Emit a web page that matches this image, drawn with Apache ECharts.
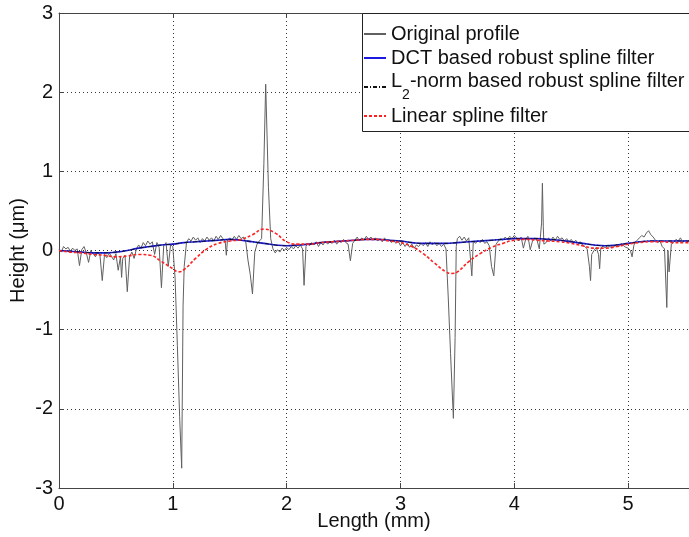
<!DOCTYPE html>
<html><head><meta charset="utf-8">
<script src="https://cdn.jsdelivr.net/npm/echarts@6/dist/echarts.min.js"></script>
<style>html,body{margin:0;padding:0;background:#fff}#c{width:689px;height:537px}</style>
</head><body><div id="c"></div>
<script>
const xTicks = [0, 1, 2, 3, 4, 5];
const yTicks = [-3, -2, -1, 0, 1, 2, 3];
const seriesNames = ['Original profile', 'DCT based robust spline filter', 'L2-norm based robust spline filter', 'Linear spline filter'];

const originalProfile = [
[0.00,0.01],[0.02,-0.02],[0.04,0.05],[0.06,0.02],[0.08,0.04],
[0.10,-0.01],[0.12,0.03],[0.14,0.00],[0.16,0.02],[0.18,-0.19],
[0.20,0.01],[0.22,0.05],[0.24,-0.03],[0.26,-0.15],[0.28,0.00],
[0.30,-0.04],[0.32,-0.08],[0.34,-0.02],[0.36,-0.06],[0.38,-0.38],
[0.40,-0.05],[0.42,-0.09],[0.44,-0.03],[0.46,-0.07],[0.48,-0.12],
[0.50,-0.04],[0.52,-0.25],[0.54,-0.08],[0.55,-0.34],[0.56,-0.10],[0.58,-0.06],
[0.60,-0.52],[0.62,-0.08],[0.64,-0.02],[0.66,-0.10],[0.68,0.02],
[0.70,0.07],[0.72,0.03],[0.74,0.10],[0.76,0.06],[0.78,0.12],
[0.80,0.08],[0.82,0.11],[0.84,-0.05],[0.86,0.10],[0.88,0.04],
[0.90,-0.47],[0.92,0.06],[0.94,0.10],[0.96,-0.20],[0.98,0.07],
[1.00,0.05],[1.02,-0.35],[1.04,-1.20],[1.06,-2.10],[1.078,-2.75],[1.09,-0.70],[1.10,-0.20],[1.12,0.10],[1.14,0.15],[1.16,0.12],[1.18,0.17],
[1.20,0.13],[1.22,0.16],[1.24,0.10],[1.26,0.15],[1.28,0.12],
[1.30,0.17],[1.32,0.13],[1.34,0.16],[1.36,0.12],[1.38,0.18],
[1.40,0.14],[1.42,0.19],[1.44,0.15],[1.46,0.12],[1.47,-0.06],[1.48,0.13],
[1.50,0.16],[1.52,0.13],[1.54,0.18],[1.56,0.14],[1.58,0.19],
[1.60,0.15],[1.62,0.17],[1.64,0.12],[1.66,-0.12],[1.68,-0.30],[1.70,-0.55],[1.72,-0.02],[1.74,0.08],[1.76,0.12],[1.78,0.15],
[1.80,1.10],[1.816,2.10],[1.84,0.80],[1.86,0.15],[1.88,0.02],
[1.90,-0.03],[1.92,0.01],[1.94,-0.02],[1.96,0.03],[1.98,0.00],
[2.00,0.04],[2.02,0.01],[2.04,0.05],[2.06,0.02],[2.08,0.06],
[2.10,0.03],[2.12,0.07],[2.14,0.02],[2.153,-0.44],[2.17,0.05],[2.18,0.09],
[2.20,0.06],[2.22,0.10],[2.24,0.07],[2.26,0.11],[2.28,0.05],
[2.30,0.10],[2.32,0.07],[2.34,0.12],[2.36,0.08],[2.38,0.11],
[2.40,0.09],[2.42,0.13],[2.44,0.08],[2.46,0.12],[2.48,0.10],
[2.50,0.14],[2.52,0.10],[2.54,0.08],[2.56,-0.13],[2.58,0.09],
[2.60,0.13],[2.62,0.17],[2.64,0.12],[2.66,0.16],[2.68,0.13],
[2.70,0.18],[2.72,0.14],[2.74,0.17],[2.76,0.13],[2.78,0.16],
[2.80,0.12],[2.82,0.15],[2.84,0.11],[2.86,0.16],[2.88,0.12],
[2.90,0.14],[2.92,0.10],[2.94,0.13],[2.96,0.09],[2.98,0.12],
[3.00,0.06],[3.02,0.10],[3.04,0.05],[3.06,0.09],[3.08,0.04],
[3.10,0.08],[3.12,0.03],[3.14,0.07],[3.16,0.05],[3.18,0.09],
[3.20,0.06],[3.22,0.10],[3.24,0.05],[3.26,0.11],[3.28,0.07],
[3.30,0.10],[3.32,0.06],[3.34,0.09],[3.36,0.05],[3.38,0.08],
[3.40,0.02],[3.42,-0.60],[3.44,-1.30],[3.465,-2.12],[3.48,-1.10],[3.49,0.05],[3.50,0.15],[3.52,0.18],[3.54,0.13],[3.56,0.17],[3.58,0.12],
[3.60,0.16],[3.627,-0.32],[3.64,0.12],[3.66,0.09],[3.68,0.13],
[3.70,0.10],[3.72,0.14],[3.74,0.09],[3.76,0.11],[3.78,0.06],[3.80,-0.20],[3.82,-0.32],[3.84,0.08],[3.86,0.12],[3.88,0.15],
[3.90,0.13],[3.92,0.17],[3.94,0.14],[3.96,0.18],[3.98,0.15],
[4.00,0.19],[4.02,0.16],[4.04,0.12],[4.06,0.17],[4.08,0.03],
[4.10,0.14],[4.12,0.18],[4.14,0.01],[4.16,0.12],[4.18,0.16],
[4.20,0.13],[4.22,0.02],[4.24,0.35],[4.247,0.85],[4.255,0.30],[4.26,0.08],[4.28,0.10],
[4.30,0.16],[4.32,0.12],[4.34,0.17],[4.36,0.13],[4.38,0.18],
[4.40,0.14],[4.42,0.16],[4.44,0.12],[4.46,0.15],[4.48,0.11],
[4.50,0.14],[4.52,0.10],[4.54,0.13],[4.56,0.09],[4.58,0.11],
[4.60,0.07],[4.62,0.05],[4.64,0.02],[4.66,-0.20],[4.67,-0.38],[4.68,-0.05],[4.70,0.00],[4.72,0.04],[4.74,-0.05],[4.75,-0.23],[4.76,0.03],[4.78,0.06],
[4.80,0.03],[4.82,0.07],[4.84,0.04],[4.86,0.06],[4.88,0.05],
[4.90,0.08],[4.92,0.05],[4.94,0.09],[4.96,0.06],[4.98,0.04],
[5.00,0.03],[5.02,0.00],[5.035,-0.08],[5.05,0.06],[5.06,0.10],[5.08,0.13],
[5.10,0.16],[5.12,0.19],[5.14,0.17],[5.16,0.22],[5.18,0.25],
[5.20,0.20],[5.22,0.17],[5.24,0.13],[5.26,0.10],[5.28,0.12],
[5.30,0.05],[5.32,0.02],[5.34,-0.72],[5.35,0.00],[5.36,-0.27],[5.38,0.08],
[5.40,0.10],[5.42,0.14],[5.44,0.12],[5.46,0.16],[5.48,0.10],
[5.50,0.13],[5.52,0.11],[5.54,0.14]
];

const dctFilter = [
[0.0,0.00],[0.1,-0.01],[0.2,-0.02],[0.3,-0.03],[0.4,-0.03],[0.5,-0.02],[0.6,0.00],[0.7,0.03],[0.8,0.05],[0.9,0.07],
[1.0,0.08],[1.1,0.10],[1.2,0.11],[1.3,0.12],[1.4,0.13],[1.5,0.14],[1.6,0.13],[1.7,0.11],[1.8,0.09],[1.9,0.07],
[2.0,0.06],[2.1,0.07],[2.2,0.08],[2.3,0.10],[2.4,0.11],[2.5,0.12],[2.6,0.13],[2.7,0.14],[2.8,0.14],[2.9,0.13],
[3.0,0.12],[3.1,0.10],[3.2,0.09],[3.3,0.09],[3.4,0.09],[3.5,0.10],[3.6,0.11],[3.7,0.12],[3.8,0.13],[3.9,0.14],
[4.0,0.15],[4.1,0.15],[4.2,0.15],[4.3,0.14],[4.4,0.13],[4.5,0.11],[4.6,0.09],[4.7,0.07],[4.8,0.06],[4.9,0.07],
[5.0,0.09],[5.1,0.11],[5.2,0.12],[5.3,0.12],[5.4,0.12],[5.5,0.12],[5.54,0.12]
];

const l2Filter = [
[0.0,0.00],[0.1,-0.01],[0.2,-0.02],[0.3,-0.03],[0.4,-0.03],[0.5,-0.02],[0.6,0.00],[0.7,0.03],[0.8,0.05],[0.9,0.07],
[1.0,0.08],[1.1,0.10],[1.2,0.11],[1.3,0.12],[1.4,0.13],[1.5,0.14],[1.6,0.13],[1.7,0.11],[1.8,0.09],[1.9,0.07],
[2.0,0.06],[2.1,0.07],[2.2,0.08],[2.3,0.10],[2.4,0.11],[2.5,0.12],[2.6,0.13],[2.7,0.14],[2.8,0.14],[2.9,0.13],
[3.0,0.12],[3.1,0.10],[3.2,0.09],[3.3,0.09],[3.4,0.09],[3.5,0.10],[3.6,0.11],[3.7,0.12],[3.8,0.13],[3.9,0.14],
[4.0,0.15],[4.1,0.15],[4.2,0.15],[4.3,0.14],[4.4,0.13],[4.5,0.11],[4.6,0.09],[4.7,0.07],[4.8,0.06],[4.9,0.07],
[5.0,0.09],[5.1,0.11],[5.2,0.12],[5.3,0.12],[5.4,0.12],[5.5,0.12],[5.54,0.12]
];

const linearFilter = [
[0.0,0.00],[0.1,-0.02],[0.2,-0.03],[0.3,-0.05],[0.4,-0.06],[0.5,-0.08],[0.6,-0.07],[0.7,-0.05],[0.8,-0.06],[0.9,-0.14],
[1.0,-0.23],[1.05,-0.27],[1.1,-0.24],[1.2,-0.10],[1.3,0.02],[1.4,0.09],[1.5,0.12],[1.6,0.14],[1.7,0.20],[1.8,0.27],[1.9,0.22],
[2.0,0.11],[2.1,0.08],[2.2,0.08],[2.3,0.10],[2.4,0.11],[2.5,0.12],[2.6,0.13],[2.7,0.14],[2.8,0.14],[2.9,0.12],
[3.0,0.10],[3.1,0.05],[3.2,-0.04],[3.3,-0.16],[3.4,-0.27],[3.45,-0.29],[3.5,-0.27],[3.6,-0.14],[3.7,-0.04],[3.8,0.04],[3.9,0.09],
[4.0,0.13],[4.1,0.14],[4.2,0.13],[4.3,0.12],[4.4,0.11],[4.5,0.09],[4.6,0.06],[4.7,0.03],[4.8,0.03],[4.9,0.05],
[5.0,0.08],[5.1,0.10],[5.2,0.11],[5.3,0.11],[5.4,0.10],[5.5,0.10],[5.54,0.10]
];

const chart = echarts.init(document.getElementById('c'));
const font = 'Liberation Sans, Arial, sans-serif';
const fs = 20;
const gridDots = { show: true, lineStyle: { color: '#333', width: 1, type: [1, 3] } };
chart.setOption({
  animation: false,
  backgroundColor: '#fff',
  grid: { left: 59, top: 13, right: 0, bottom: 49, show: false, containLabel: false, outerBoundsMode: 'none' },
  graphic: [{
    type: 'rect', left: 362, top: 13, z: 90, silent: true,
    shape: { width: 360, height: 118 },
    style: { fill: '#fff', stroke: '#222', lineWidth: 1 }
  }],
  legend: {
    left: 362, top: 13, orient: 'vertical', z: 100,
    borderWidth: 0,
    padding: [10, 4, 5, 1], itemGap: 2, itemWidth: 22, itemHeight: 12,
    itemStyle: { opacity: 0 },
    textStyle: { fontFamily: font, fontSize: fs, color: '#111', lineHeight: 22,
      rich: {
        m: { fontFamily: font, fontSize: fs, color: '#111', lineHeight: 22, padding: [0, 0, 12, 0] },
        sub: { fontFamily: font, fontSize: 14, color: '#111', lineHeight: 18, padding: [16, 0, 0, 0] }
      } },
    formatter: function (n) { return n === seriesNames[2] ? '{m|L}{sub|2}{m|-norm based robust spline filter}' : n; },
    data: seriesNames
  },
  xAxis: [{
    type: 'value', min: 0, max: 5.535, interval: 1,
    name: 'Length (mm)', nameLocation: 'middle', nameGap: 23, nameMoveOverlap: false,
    nameTextStyle: { fontFamily: font, fontSize: fs, color: '#111' },
    axisLine: { show: true, onZero: false, lineStyle: { color: '#444' } },
    axisTick: { show: true, inside: true, length: 5, lineStyle: { color: '#444' } },
    axisLabel: { fontFamily: font, fontSize: fs, color: '#111', margin: 6,
      formatter: function (v) { return xTicks.indexOf(Math.round(v)) >= 0 && Math.abs(v - Math.round(v)) < 1e-6 ? String(Math.round(v)) : ''; } },
    splitLine: gridDots
  }, {
    type: 'value', position: 'top', min: 0, max: 5.535, interval: 1,
    axisLine: { show: true, onZero: false, lineStyle: { color: '#444' } },
    axisTick: { show: true, inside: true, length: 5, lineStyle: { color: '#444' } },
    axisLabel: { show: false }, splitLine: { show: false }
  }],
  yAxis: {
    type: 'value', min: -3, max: 3, interval: 1,
    name: 'Height (\u03bcm)', nameLocation: 'middle', nameGap: 31, nameMoveOverlap: false,
    nameTextStyle: { fontFamily: font, fontSize: fs, color: '#111' },
    axisLine: { show: true, onZero: false, lineStyle: { color: '#444' } },
    axisTick: { show: true, inside: true, length: 5, lineStyle: { color: '#444' } },
    axisLabel: { fontFamily: font, fontSize: fs, color: '#111', margin: 6,
      formatter: function (v) { return yTicks.indexOf(v) >= 0 ? String(v) : ''; } },
    splitLine: gridDots
  },
  series: [
    { name: seriesNames[0], type: 'line', data: originalProfile, showSymbol: false, symbol: 'none',
      lineStyle: { color: '#606060', width: 1 }, itemStyle: { color: '#606060' }, z: 1 },
    { name: seriesNames[1], type: 'line', data: dctFilter, smooth: true, showSymbol: false, symbol: 'none',
      lineStyle: { color: '#1a1ae0', width: 1.6 }, itemStyle: { color: '#1a1ae0' }, z: 2 },
    { name: seriesNames[2], type: 'line', data: l2Filter, smooth: true, showSymbol: false, symbol: 'none',
      lineStyle: { color: '#111', width: 1, type: [4, 2, 1, 2] }, itemStyle: { color: '#111' }, z: 3 },
    { name: seriesNames[3], type: 'line', data: linearFilter, smooth: true, showSymbol: false, symbol: 'none',
      lineStyle: { color: '#ff2020', width: 1.6, type: [3, 2] }, itemStyle: { color: '#ff2020' }, z: 4 }
  ]
});
</script></body></html>
